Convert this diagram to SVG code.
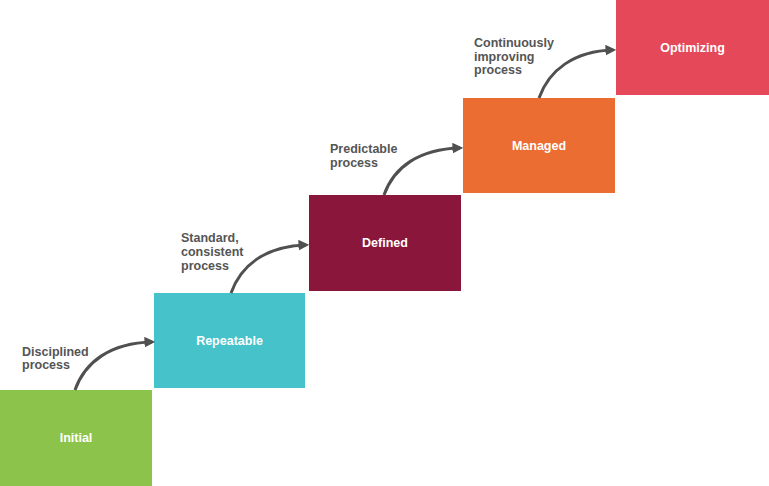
<svg xmlns="http://www.w3.org/2000/svg" width="769" height="486" viewBox="0 0 769 486">
<style>
.lbl{font-family:"Liberation Sans",Arial,sans-serif;font-weight:bold;font-size:12.5px;fill:#ffffff;text-anchor:middle}
.note{font-family:"Liberation Sans",Arial,sans-serif;font-weight:bold;font-size:12.5px;fill:#555555}
.arr{fill:none;stroke:#505050;stroke-width:3;marker-end:url(#ah)}
</style>
<defs>
<marker id="ah" viewBox="0 0 10 10" refX="7" refY="5" markerWidth="3.6" markerHeight="3.6" markerUnits="strokeWidth" orient="auto">
<path d="M0,0 L10,5 L0,10 Z" fill="#505050"/>
</marker>
</defs>
<rect width="769" height="486" fill="#ffffff"/>
<g id="initial">
<rect x="0" y="390" width="152" height="96" fill="#8CC34B"/>
<text class="lbl" x="76" y="442">Initial</text>
</g>
<g id="repeatable">
<rect x="154" y="293" width="151" height="95" fill="#46C2CB"/>
<text class="lbl" x="229.5" y="344.5">Repeatable</text>
</g>
<g id="defined">
<rect x="309" y="195" width="152" height="96" fill="#8A163B"/>
<text class="lbl" x="385" y="247">Defined</text>
</g>
<g id="managed">
<rect x="463" y="98" width="152" height="95" fill="#EC6D32"/>
<text class="lbl" x="539" y="149.5">Managed</text>
</g>
<g id="optimizing">
<rect x="616" y="0" width="153" height="95" fill="#E54858"/>
<text class="lbl" x="692.5" y="51.5">Optimizing</text>
</g>
<g id="notes">
<text class="note" x="22" y="356">Disciplined</text>
<text class="note" x="22" y="369">process</text>
<text class="note" x="181" y="242">Standard,</text>
<text class="note" x="181" y="256">consistent</text>
<text class="note" x="181" y="269.5">process</text>
<text class="note" x="330" y="153">Predictable</text>
<text class="note" x="330" y="166.5">process</text>
<text class="note" x="474" y="47">Continuously</text>
<text class="note" x="474" y="60.5">improving</text>
<text class="note" x="474" y="74">process</text>
</g>
<g id="connectors">
<path class="arr" d="M75,390 C85,362 110,343 152,342"/>
<path class="arr" d="M231,293 C241,265 266,246 306,245"/>
<path class="arr" d="M384,195 C394,167 419,149 460,148"/>
<path class="arr" d="M539,98 C549,70 574,51 613,50"/>
</g>
</svg>
